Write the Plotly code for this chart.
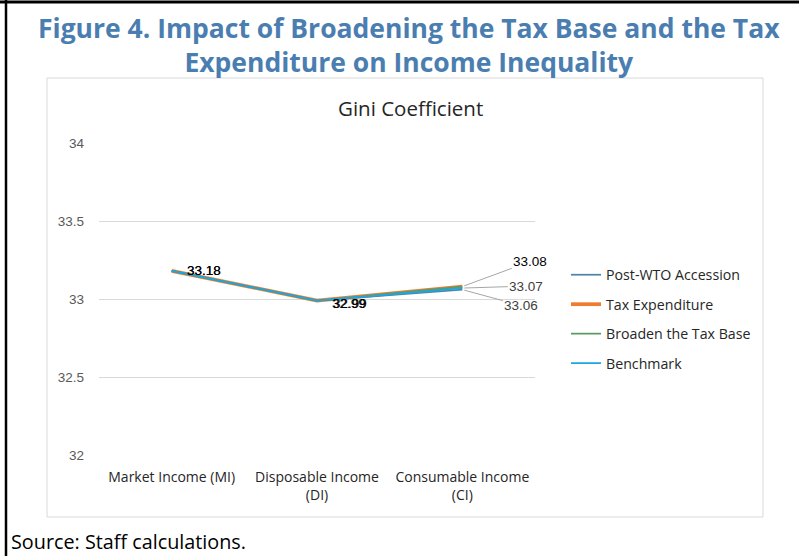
import plotly.graph_objects as go

W, H = 799, 556
L, R, T, B = 99, 264, 143, 101  # plot area margins
PW, PH = W - L - R, H - T - B

categories = ["Market Income (MI)", "Disposable Income<br>(DI)", "Consumable Income<br>(CI)"]
series_names = ["Post-WTO Accession", "Tax Expenditure", "Broaden the Tax Base", "Benchmark"]
post_wto = [33.18, 32.99, 33.06]
tax_exp = [33.18, 32.99, 33.08]
broaden = [33.18, 32.99, 33.08]
benchmark = [33.18, 32.99, 33.07]
y_ticks = [32, 32.5, 33, 33.5, 34]
y_tick_labels = ["32", "32.5", "33", "33.5", "34"]
title_lines = ["Figure 4. Impact of Broadening the Tax Base and the Tax",
               "Expenditure on Income Inequality"]

colors = {
    "Post-WTO Accession": "#4F86A6",
    "Tax Expenditure": "#ED7D31",
    "Broaden the Tax Base": "#5B9B63",
    "Benchmark": "#19A9E0",
}
widths = {"Post-WTO Accession": 1.75, "Tax Expenditure": 3.75, "Broaden the Tax Base": 1.75, "Benchmark": 1.75}
values = {"Post-WTO Accession": post_wto, "Tax Expenditure": tax_exp,
          "Broaden the Tax Base": broaden, "Benchmark": benchmark}
legend_rank = {n: i for i, n in enumerate(series_names)}
draw_order = ["Tax Expenditure", "Broaden the Tax Base", "Post-WTO Accession", "Benchmark"]


def px(x):
    return (x - L) / PW


def py(y):
    return 1 - (y - T) / PH


fig = go.Figure()
for name in draw_order:
    fig.add_trace(go.Scatter(
        x=categories, y=values[name], mode="lines", name=name,
        line=dict(color=colors[name], width=widths[name]),
        legendrank=legend_rank[name] + 1, legendgroup=name,
        hoverinfo="skip",
    ))

annotations = []
label_font = dict(family="Liberation Sans, Arial", size=13.5, color="#000000")
# labels at first two categories (overlapping four series -> drawn twice for heavier look)
for i, yo in [(0, 0), (1, 3)]:
    v = benchmark[i]
    for dx in (0, 0.6):
        annotations.append(dict(
            x=categories[i], y=v, xref="x", yref="y", text=f"{v:.2f}",
            showarrow=False, xanchor="left", yanchor="middle",
            xshift=13 + dx, yshift=-yo, font=label_font,
        ))

# labels at last category with leader lines
end_labels = [
    (tax_exp[2], 68, -25, "#000000"),
    (benchmark[2], 64, -2, "#404040"),
    (post_wto[2], 59, 16, "#404040"),
]
for v, ax, ay, col in end_labels:
    annotations.append(dict(
        x=categories[2], y=v, xref="x", yref="y", text=f"{v:.2f}",
        showarrow=True, arrowhead=0, arrowwidth=1, arrowcolor="#A6A6A6",
        ax=ax, ay=ay, standoff=2,
        font=dict(family="Liberation Sans, Arial", size=13.5, color=col),
    ))

# titles and source
annotations.append(dict(
    x=px(409), y=py(44.5), xref="paper", yref="paper", xanchor="center", yanchor="middle",
    text="<br>".join(title_lines), showarrow=False, align="center",
    font=dict(family="Open Sans", size=26.5, color="#4A7EB0", weight=700),
))
annotations.append(dict(
    x=px(410.5), y=py(108), xref="paper", yref="paper", xanchor="center", yanchor="middle",
    text="Gini Coefficient", showarrow=False,
    font=dict(family="Open Sans", size=20.5, color="#262626"),
))
annotations.append(dict(
    x=px(9), y=py(541), xref="paper", yref="paper", xanchor="left", yanchor="middle",
    text="Source: Staff calculations.", showarrow=False,
    font=dict(family="Open Sans", size=19.8, color="#000000"),
))

shapes = [
    # chart frame
    dict(type="rect", xref="paper", yref="paper", x0=px(47), x1=px(763), y0=py(78), y1=py(517),
         line=dict(color="#D9D9D9", width=1), fillcolor="rgba(0,0,0,0)", layer="below"),
    # outer black borders
    dict(type="line", xref="paper", yref="paper", x0=px(0), x1=px(799), y0=py(2), y1=py(2),
         line=dict(color="#000000", width=3)),
    dict(type="line", xref="paper", yref="paper", x0=px(6), x1=px(6), y0=py(0), y1=py(556),
         line=dict(color="#000000", width=2.5)),
]

fig.update_layout(
    width=W, height=H,
    margin=dict(l=L, r=R, t=T, b=B, pad=0),
    paper_bgcolor="#FFFFFF", plot_bgcolor="#FFFFFF",
    showlegend=True,
    legend=dict(
        x=px(566), y=py(259), xanchor="left", yanchor="top",
        font=dict(family="Open Sans", size=14.2, color="#262626"),
        tracegroupgap=8, itemwidth=30, bgcolor="rgba(0,0,0,0)",
    ),
    annotations=annotations,
    shapes=shapes,
)
fig.update_xaxes(
    range=[-0.5, 2.5],
    showgrid=False, showline=False, zeroline=False, ticks="",
    tickfont=dict(family="Open Sans", size=14, color="#262626"),
    ticklabelstandoff=12,
)
fig.update_yaxes(
    range=[32, 34], tickvals=y_ticks, ticktext=y_tick_labels,
    showgrid=True, gridcolor="#D9D9D9", gridwidth=1, zeroline=False, showline=False,
    tickfont=dict(family="Liberation Sans, Arial", size=13.5, color="#595959"),
    ticks="", ticklabelstandoff=14,
)

fig.write_html("out.html")
